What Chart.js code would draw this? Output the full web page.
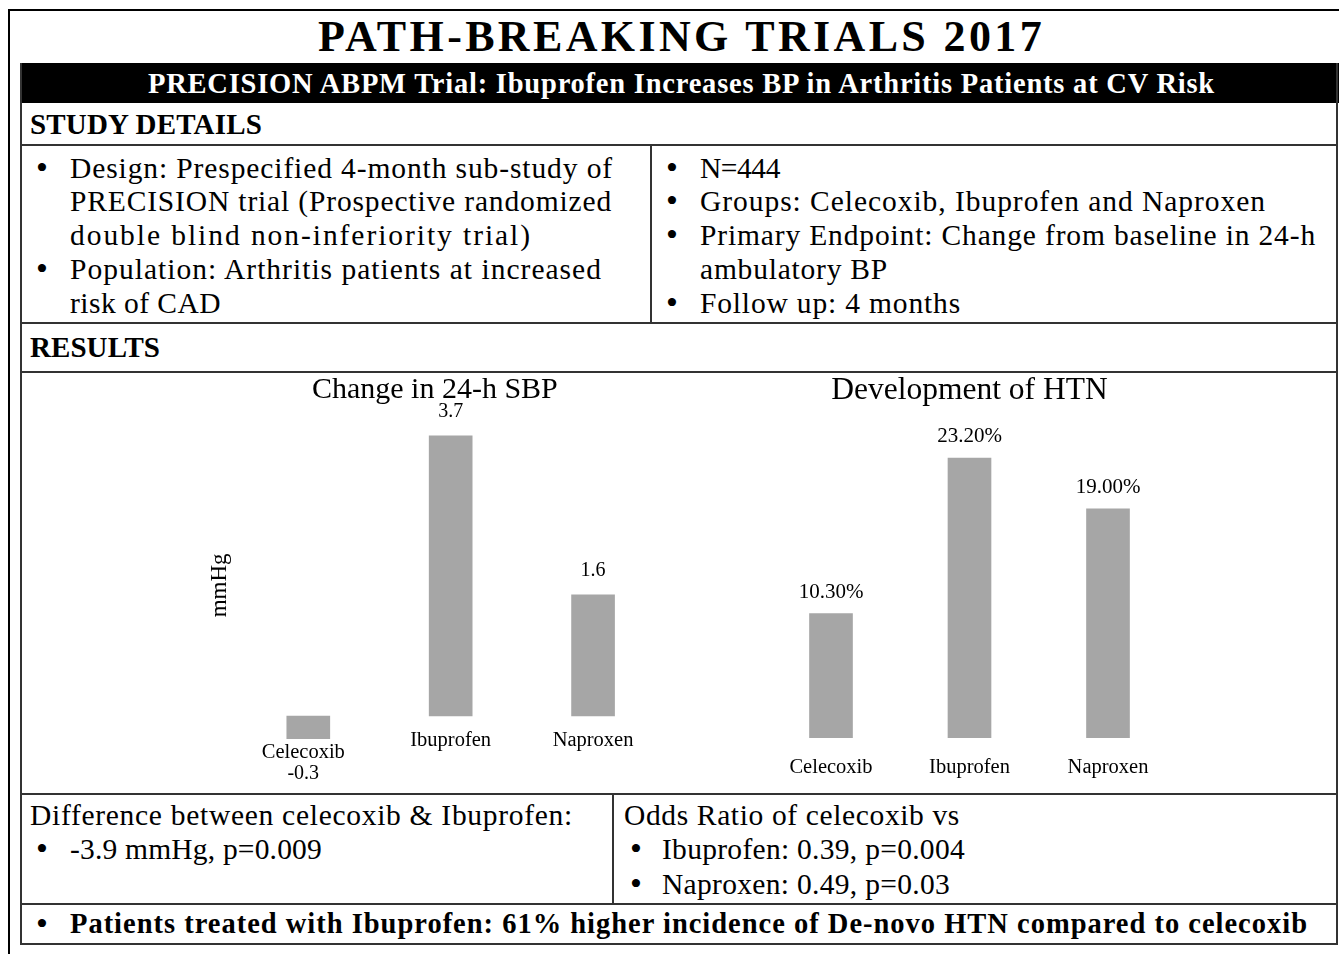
<!DOCTYPE html>
<html><head><meta charset="utf-8">
<script src="https://cdn.jsdelivr.net/npm/chart.js@4"></script>
<style>
html,body{margin:0;padding:0;background:#fff;}
body{width:1339px;height:954px;position:relative;overflow:hidden;font-family:"Liberation Serif",serif;color:#000;}
.abs{position:absolute;}
.hl{position:absolute;height:2px;background:#333;}
.vl{position:absolute;width:2px;background:#333;}
.t{position:absolute;white-space:nowrap;line-height:34px;height:34px;font-size:29.5px;}
.b{font-weight:bold;font-size:29px;}
.bul{position:absolute;white-space:nowrap;line-height:34px;height:34px;font-size:34px;}
canvas{position:absolute;}
</style></head>
<body>
<!-- outer frame -->
<div class="abs" style="left:8px;top:9px;width:1400px;height:1000px;border:2px solid #000;box-sizing:border-box;"></div>
<!-- main title -->
<div class="t b" style="left:20px;width:1323px;top:12px;height:50px;line-height:50px;font-size:44px;text-align:center;"><span data-w="727">PATH-BREAKING TRIALS 2017</span></div>
<!-- black bar -->
<div class="abs" style="left:20px;top:63px;width:1319px;height:40px;background:#000;"></div>
<div class="t b" style="left:20px;width:1323px;top:67px;color:#fff;text-align:center;font-size:28.5px;"><span data-w="1067">PRECISION ABPM Trial: Ibuprofen Increases BP in Arthritis Patients at CV Risk</span></div>
<!-- table lines -->
<div class="vl" style="left:20px;top:63px;height:882px;"></div>
<div class="vl" style="left:1336px;top:63px;height:882px;"></div>
<div class="hl" style="left:20px;top:144px;width:1318px;"></div>
<div class="hl" style="left:20px;top:322px;width:1318px;"></div>
<div class="hl" style="left:20px;top:371px;width:1318px;"></div>
<div class="hl" style="left:20px;top:793px;width:1318px;"></div>
<div class="hl" style="left:20px;top:903px;width:1318px;"></div>
<div class="hl" style="left:20px;top:943px;width:1318px;"></div>
<div class="vl" style="left:650px;top:144px;height:180px;"></div>
<div class="vl" style="left:612px;top:793px;height:112px;"></div>

<!-- study details -->
<div class="t b" style="left:30px;top:107px;"><span data-w="232">STUDY DETAILS</span></div>
<div class="bul" style="left:36px;top:151px;">•</div>
<div class="t" style="left:70px;top:151px;"><span data-w="543">Design: Prespecified 4-month sub-study of</span></div>
<div class="t" style="left:70px;top:184px;"><span data-w="542">PRECISION trial (Prospective randomized</span></div>
<div class="t" style="left:70px;top:218px;"><span data-w="462">double blind non-inferiority trial)</span></div>
<div class="bul" style="left:36px;top:252px;">•</div>
<div class="t" style="left:70px;top:252px;"><span data-w="532">Population: Arthritis patients at increased</span></div>
<div class="t" style="left:70px;top:286px;"><span data-w="151">risk of CAD</span></div>

<div class="bul" style="left:666px;top:151px;">•</div>
<div class="t" style="left:700px;top:151px;"><span data-w="80">N=444</span></div>
<div class="bul" style="left:666px;top:184px;">•</div>
<div class="t" style="left:700px;top:184px;"><span data-w="566">Groups: Celecoxib, Ibuprofen and Naproxen</span></div>
<div class="bul" style="left:666px;top:218px;">•</div>
<div class="t" style="left:700px;top:218px;"><span data-w="616">Primary Endpoint: Change from baseline in 24-h</span></div>
<div class="t" style="left:700px;top:252px;"><span data-w="188">ambulatory BP</span></div>
<div class="bul" style="left:666px;top:286px;">•</div>
<div class="t" style="left:700px;top:286px;"><span data-w="261">Follow up: 4 months</span></div>

<!-- results -->
<div class="t b" style="left:30px;top:330px;"><span data-w="130">RESULTS</span></div>
<canvas id="c1" width="650" height="421" style="left:20px;top:372px;"></canvas>
<canvas id="c2" width="668" height="421" style="left:670px;top:372px;"></canvas>

<div class="t" style="left:30px;top:798px;"><span data-w="543">Difference between celecoxib &amp; Ibuprofen:</span></div>
<div class="bul" style="left:36px;top:832px;">•</div>
<div class="t" style="left:70px;top:832px;"><span data-w="252">-3.9 mmHg, p=0.009</span></div>

<div class="t" style="left:624px;top:798px;"><span data-w="336">Odds Ratio of celecoxib vs</span></div>
<div class="bul" style="left:630px;top:832px;">•</div>
<div class="t" style="left:662px;top:832px;"><span data-w="303">Ibuprofen: 0.39, p=0.004</span></div>
<div class="bul" style="left:630px;top:867px;">•</div>
<div class="t" style="left:662px;top:867px;"><span data-w="288">Naproxen: 0.49, p=0.03</span></div>

<div class="bul" style="left:36px;top:907px;">•</div>
<div class="t b" style="left:70px;top:907px;font-size:28.5px;"><span data-w="1238">Patients treated with Ibuprofen: 61% higher incidence of De-novo HTN compared to celecoxib</span></div>

<script>
// ---- data ----
const drugs = ["Celecoxib", "Ibuprofen", "Naproxen"];
const sbpChange = [-0.3, 3.7, 1.6];
const sbpValueLabels = ["-0.3", "3.7", "1.6"];
const htnRate = [10.3, 23.2, 19.0];
const htnValueLabels = ["10.30%", "23.20%", "19.00%"];

// fit text widths via letter-spacing
document.querySelectorAll('[data-w]').forEach(el => {
  const target = +el.dataset.w;
  el.style.letterSpacing = '0px';
  const w = el.getBoundingClientRect().width;
  const n = [...el.textContent].length;
  el.style.letterSpacing = ((target - w) / n) + 'px';
});

Chart.defaults.color = '#000';
Chart.defaults.font.family = '"Liberation Serif", serif';

const barLabels = {
  id: 'barLabels',
  afterDatasetsDraw(chart, args, opts) {
    const ctx = chart.ctx;
    const meta = chart.getDatasetMeta(0);
    const cats = chart.data.labels;
    const vals = chart.data.datasets[0].data;
    ctx.save();
    ctx.fillStyle = '#000';
    ctx.textAlign = 'center';
    ctx.textBaseline = 'middle';
    meta.data.forEach((bar, i) => {
      const v = vals[i];
      const x = bar.x;
      const top = Math.min(bar.y, bar.base);
      const bottom = Math.max(bar.y, bar.base);
      if (v >= 0) {
        ctx.font = opts.valueFont;
        ctx.fillText(opts.texts[i], x, top - opts.valueGap);
        ctx.font = opts.catFont;
        ctx.fillText(cats[i], x, bar.base + opts.catGap);
      } else {
        ctx.font = opts.catFont;
        ctx.fillText(cats[i], x - opts.negShift, bottom + opts.negCatGap);
        ctx.font = opts.valueFont;
        ctx.fillText(opts.texts[i], x - opts.negShift, bottom + opts.negValGap);
      }
    });
    ctx.restore();
  }
};

new Chart(document.getElementById('c1'), {
  type: 'bar',
  data: { labels: drugs, datasets: [{ data: sbpChange, backgroundColor: '#a6a6a6', barThickness: 43, borderWidth: 0 }] },
  options: {
    responsive: false, animation: false,
    layout: { padding: { left: 185.5, right: 5.75, top: 0, bottom: 35.4 } },
    plugins: {
      legend: { display: false }, tooltip: { enabled: false },
      title: { display: true, text: 'Change in 24-h SBP', color: '#000',
               font: { size: 30, weight: 'normal' }, padding: { top: 0, bottom: 5.2 } },
      barLabels: { texts: sbpValueLabels, valueFont: '20px "Liberation Serif"', catFont: '20.5px "Liberation Serif"',
                   valueGap: 24, catGap: 25, negCatGap: 14, negValGap: 35, negShift: 5 }
    },
    scales: {
      x: { display: false },
      y: { min: -0.55, max: 4, ticks: { display: false }, grid: { display: false, drawTicks: false }, border: { display: false },
           title: { display: true, text: 'mmHg', color: '#000', font: { size: 23 }, padding: { top: 1, bottom: 3 } } }
    }
  },
  plugins: [barLabels]
});

new Chart(document.getElementById('c2'), {
  type: 'bar',
  data: { labels: drugs, datasets: [{ data: htnRate, backgroundColor: '#a6a6a6', barThickness: 43, borderWidth: 0 }] },
  options: {
    responsive: false, animation: false,
    layout: { padding: { left: 91.75, right: 160.75, top: 0, bottom: 55 } },
    plugins: {
      legend: { display: false }, tooltip: { enabled: false },
      title: { display: true, text: 'Development of HTN', color: '#000',
               font: { size: 31.5, weight: 'normal' }, padding: { top: 0, bottom: 26.5 } },
      barLabels: { texts: htnValueLabels, valueFont: '21px "Liberation Serif"', catFont: '20.5px "Liberation Serif"',
                   valueGap: 21.5, catGap: 30, negCatGap: 14, negValGap: 35, negShift: 0 }
    },
    scales: {
      x: { display: false },
      y: { display: false, min: 0, max: 25 }
    }
  },
  plugins: [barLabels]
});
</script>
</body></html>
